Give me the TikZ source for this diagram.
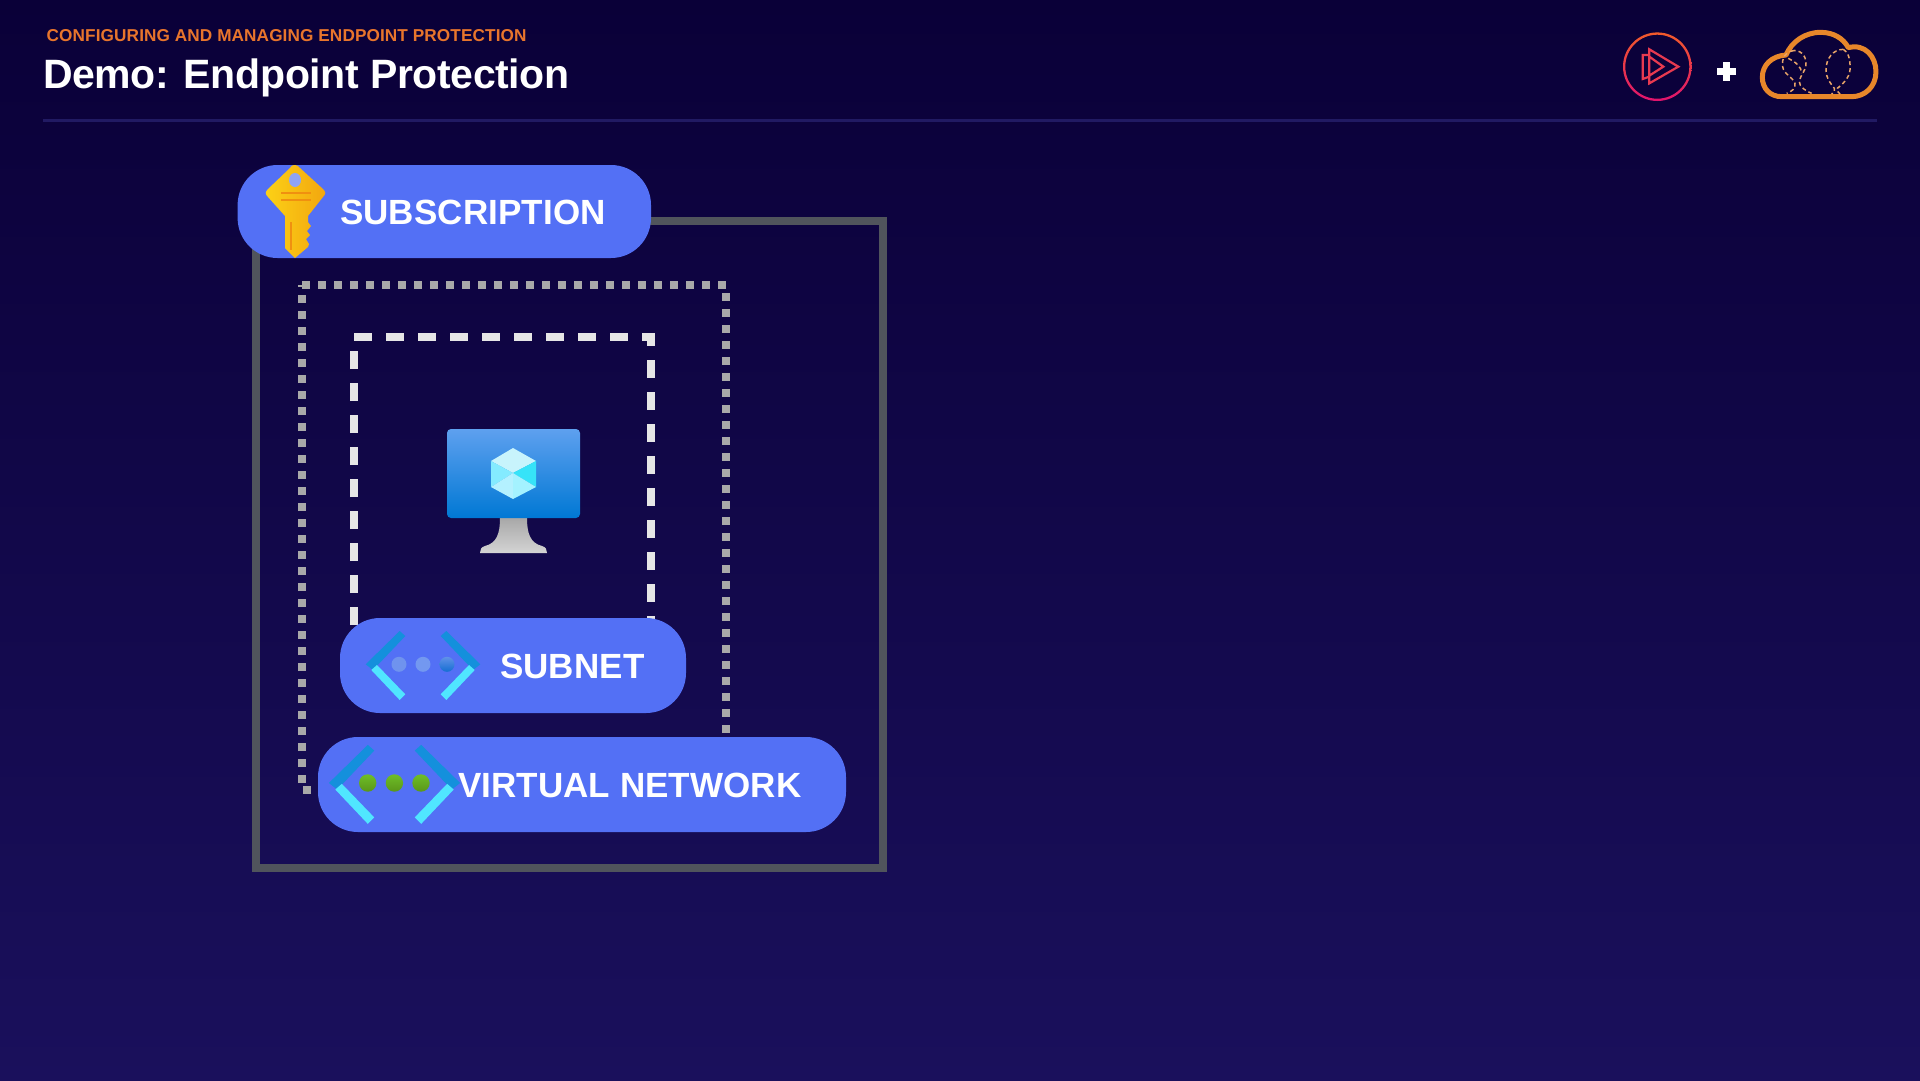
\documentclass[tikz,border=0pt]{standalone}
\usepackage{fontspec}
\setmainfont{Liberation Sans}[BoldFont={Liberation Sans Bold}]
\definecolor{bgtop}{HTML}{0A0038}
\definecolor{bgbot}{HTML}{1A105C}
\definecolor{pillc}{HTML}{5370F5}
\definecolor{rulec}{HTML}{211A63}
\definecolor{framec}{HTML}{50545C}
\definecolor{dotc}{HTML}{A9A9A9}
\definecolor{dashc}{HTML}{E6E6E6}
\definecolor{chevd}{HTML}{1490DC}
\definecolor{chevl}{HTML}{50E6FF}
\definecolor{orangeh}{HTML}{E8752C}
\definecolor{cloudc}{HTML}{E8872A}
\definecolor{balloonc}{HTML}{E8A468}
\definecolor{keya}{HTML}{FCD116}
\definecolor{keyb}{HTML}{F2A60F}
\definecolor{keyc}{HTML}{F09010}
\definecolor{keyhole}{HTML}{8FA3F7}
\definecolor{screena}{HTML}{5EA0EF}
\definecolor{screenb}{HTML}{0078D4}
\definecolor{standa}{HTML}{A8A8A8}
\definecolor{standb}{HTML}{D4D4D4}
\definecolor{cubea}{HTML}{C8F4FC}
\definecolor{cubeb}{HTML}{84EBFF}
\definecolor{cubec}{HTML}{B4F1FF}
\definecolor{cubed}{HTML}{36E3F8}
\definecolor{cubee}{HTML}{A4F2FF}
\definecolor{dota}{HTML}{6F93EE}
\definecolor{dotb}{HTML}{7398F0}
\definecolor{dotca}{HTML}{6091E8}
\definecolor{dotcb}{HTML}{146ED2}
\definecolor{greena}{HTML}{6EBE28}
\definecolor{greenb}{HTML}{5A9619}
\definecolor{playa}{HTML}{F15B2A}
\definecolor{playb}{HTML}{E0136E}
\definecolor{playc}{HTML}{E83A50}
\newcommand{\ftext}[2]{\fontsize{#1}{#1}\selectfont\bfseries\addfontfeature{LetterSpace=#2}}
\newcommand{\chevrons}[3]{%
  \begin{scope}[shift={(#1,#2)},x=#3pt,y=-#3pt]
    \foreach \m in {1,-1}{
      \fill[chevd] (\m*-57.3,0) -- (\m*-23.3,-33.3) -- (\m*-17.7,-28.3) -- (\m*-50,5.7) -- cycle;
      \fill[chevl] (\m*-51.7,5.7) -- (\m*-46,0.7) -- (\m*-17.7,30) -- (\m*-23.3,35.7) -- cycle;
    }
  \end{scope}}
\tikzset{
  pill/.style={fill=pillc,rounded corners=40pt,inner sep=0pt,draw=none},
  lab/.style={anchor=base west,inner sep=0pt,text=white},
  framebox/.style={draw=framec,line width=8pt,line join=miter},
  dotbox/.style={draw=dotc,line width=8pt,dash pattern=on 8pt off 8pt},
  dashbox/.style={draw=dashc,line width=8pt,dash pattern=on 18pt off 14pt},
  balloon/.style={draw=balloonc,line width=1.5pt,dash pattern=on 4pt off 3pt},
}
\begin{document}
\begin{tikzpicture}[x=1pt,y=-1pt]
\useasboundingbox (0,0) rectangle (1920,1080);
\shade[top color=bgtop,bottom color=bgbot] (0,0) rectangle (1920,1080);
% header
\node[lab,text=orangeh] (sub) at (46.5,41.7) {\ftext{17.2}{0.6}CONFIGURING AND MANAGING ENDPOINT PROTECTION};
\node[lab] (title) at (43,88) {\ftext{41}{-0.9}Demo: Endpoint Protection};
\fill[rulec] (43,119) rectangle (1877,121.5);
% nested frames
\draw[framebox] (256,221) rectangle (883,868);
\draw[dotbox] (302,285) -- (726,285) -- (726,790) -- (302,790) -- cycle;
\draw[dashbox] (354,337) -- (651,337) -- (651,680) -- (354,680) -- cycle;
% pills
\node[pill,minimum width=413.4pt,minimum height=93pt] (psub) at (444.3,211.5) {};
\node[pill,minimum width=346pt,minimum height=95pt] (pnet) at (513,665.5) {};
\node[pill,minimum width=528pt,minimum height=95pt] (pvnet) at (582,784.5) {};
\node[lab] (tsub) at (340,224.5) {\ftext{35}{0.25}SUBSCRIPTION};
\node[lab] (tnet) at (500,678) {\ftext{35}{0.25}SUBNET};
\node[lab] (tvnet) at (458,797) {\ftext{35}{0.25}VIRTUAL NETWORK};
% key
\shade[left color=keya,right color=keyb]
  (295,165) .. controls (297,165) and (298,166) .. (300,168)
  -- (323,189) .. controls (326,192) and (326,194) .. (323,197)
  -- (308,216) -- (308,222) -- (311,226) -- (307,231) -- (310,235) -- (306,239) -- (309,244)
  -- (308,247) -- (295,258) -- (285,248) -- (285,216)
  -- (268,197) .. controls (265,194) and (265,192) .. (268,189)
  -- (290,168) .. controls (292,165) and (293,165) .. (295,165) -- cycle;
\fill[keyhole] (295,180) ellipse (6pt and 7pt);
\draw[keyc,line width=2.2pt] (281,193) -- (311,193) (281,200) -- (311,200);
\draw[keyc,line width=2pt] (291,222) -- (291,250);
% monitor
\shade[top color=standa,bottom color=standb]
  (500,518) -- (527,518) .. controls (527,533) and (530,543) .. (542,546)
  .. controls (546,547) and (547,550) .. (547,553) -- (480,553)
  .. controls (480,550) and (481,547) .. (485,546) .. controls (497,543) and (500,533) .. (500,518) -- cycle;
\shade[top color=screena,bottom color=screenb,rounded corners=4pt]
  (447,429) rectangle (580,518);
\fill[cubea] (513,448) -- (536,461) -- (513,473) -- (491,461) -- cycle;
\fill[cubeb] (491,461) -- (513,473) -- (491,487) -- cycle;
\fill[cubec] (491,487) -- (513,473) -- (513,499) -- cycle;
\fill[cubed] (536,461) -- (513,473) -- (536,487) -- cycle;
\fill[cubee] (536,487) -- (513,473) -- (513,499) -- cycle;
% subnet icon
\chevrons{423}{664.3}{1}
\fill[dota] (399,664.3) circle (7.5pt);
\fill[dotb] (423,664.3) circle (7.5pt);
\shade[top color=dotca,bottom color=dotcb] (447,664.3) circle (7.5pt);
% vnet icon
\chevrons{394.5}{783}{1.145}
\foreach \cx in {367.7,394.4,421}{
  \shade[top color=greena,bottom color=greenb] (\cx,783) circle (8.7pt);
}
% play logo
\shade[top color=playa,bottom color=playb,even odd rule]
  (1657.3,66.7) circle (34.3pt) (1657.3,66.7) circle (32pt);
\begin{scope}[shift={(1600,10)},x=0.3333pt,y=-0.3333pt]
  \draw[draw=playc,line width=2.2pt,line join=miter]
    (148,118) -- (235,170) -- (148,220) -- cycle
    (148,135) -- (128,135) -- (128,207) -- (148,200)
    (148,140) -- (190,170) -- (148,197);
\end{scope}
% plus
\fill[white] (1717,68.4) rectangle (1736.4,75);
\fill[white] (1723.4,62) rectangle (1730,81.4);
% cloud logo
\begin{scope}[shift={(1600,10)},x=0.3333pt,y=-0.3333pt]
  \draw[draw=cloudc,line width=5pt,line join=round]
    (545,260) .. controls (510,260) and (487,235) .. (487,202)
    .. controls (487,165) and (515,138) .. (558,135)
    .. controls (575,95) and (615,67) .. (662,67)
    .. controls (700,67) and (730,85) .. (745,113)
    .. controls (795,100) and (828,140) .. (828,185)
    .. controls (828,230) and (795,260) .. (755,260) -- cycle;
  \draw[balloon] (575,122) .. controls (600,118) and (618,135) .. (618,160)
    .. controls (618,185) and (600,195) .. (598,215)
    .. controls (597,230) and (620,245) .. (635,250);
  \draw[balloon] (580,122) .. controls (555,125) and (545,145) .. (548,170)
    .. controls (552,195) and (578,200) .. (585,220)
    .. controls (588,235) and (575,245) .. (560,250);
  \draw[balloon] (565,145) .. controls (585,155) and (605,170) .. (605,190);
  \draw[balloon] (730,118) .. controls (700,118) and (678,145) .. (678,180)
    .. controls (678,205) and (695,225) .. (703,235)
    .. controls (708,242) and (700,248) .. (695,252);
  \draw[balloon] (730,118) .. controls (745,125) and (752,150) .. (750,180)
    .. controls (748,205) and (725,225) .. (712,235)
    .. controls (708,240) and (715,248) .. (720,252);
\end{scope}
\end{tikzpicture}
\end{document}
